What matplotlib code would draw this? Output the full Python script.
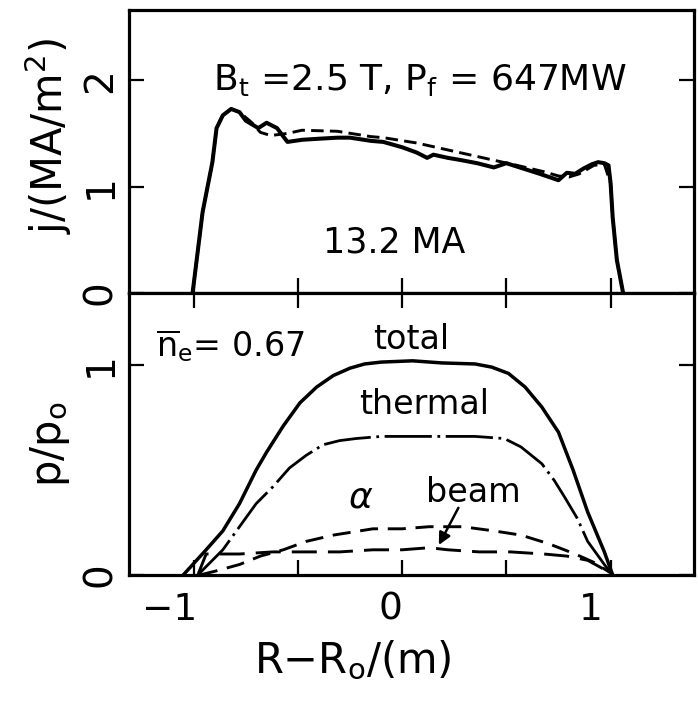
import matplotlib
matplotlib.use("Agg")
import matplotlib.pyplot as plt
from matplotlib.transforms import ScaledTranslation

plt.rcParams["font.family"] = ["DejaVu Sans"]
plt.rcParams["mathtext.fontset"] = "dejavusans"
plt.rcParams["lines.scale_dashes"] = False

# ---- current density profile, j (MA/m^2) vs R - R0 (m) ----
j_solid_x = [-1.005, -0.957, -0.91, -0.89, -0.86, -0.82, -0.78, -0.75, -0.69, -0.65,
             -0.60, -0.55, -0.48, -0.40, -0.31, -0.25, -0.15, -0.09, 0.0, 0.07,
             0.12, 0.15, 0.22, 0.28, 0.36, 0.44, 0.50, 0.58, 0.66, 0.75,
             0.79, 0.83, 0.87, 0.91, 0.94, 0.97, 0.99, 1.00, 1.01, 1.03, 1.06]
j_solid_y = [0, 0.76, 1.23, 1.55, 1.67, 1.73, 1.70, 1.62, 1.55, 1.60,
             1.55, 1.42, 1.44, 1.45, 1.46, 1.46, 1.43, 1.42, 1.37, 1.32,
             1.27, 1.30, 1.27, 1.25, 1.22, 1.18, 1.22, 1.17, 1.12, 1.06,
             1.13, 1.12, 1.17, 1.21, 1.23, 1.22, 1.20, 1.03, 0.71, 0.31, 0]

j_dash_x = [-1.005, -0.957, -0.91, -0.89, -0.86, -0.82, -0.78, -0.72, -0.68, -0.63,
            -0.55, -0.48, -0.31, -0.15, -0.09, 0.07, 0.23, 0.39, 0.55, 0.68,
            0.75, 0.80, 0.85, 0.92, 0.97, 1.00, 1.01, 1.03, 1.06]
j_dash_y = [0, 0.76, 1.23, 1.55, 1.67, 1.73, 1.70, 1.60, 1.51, 1.48,
            1.50, 1.53, 1.52, 1.47, 1.46, 1.41, 1.34, 1.27, 1.20, 1.14,
            1.10, 1.09, 1.12, 1.20, 1.21, 1.03, 0.71, 0.31, 0]

# ---- pressure profiles, p/p0 vs R - R0 (m) ----
total_x = [-1.05, -0.94, -0.86, -0.78, -0.70, -0.65, -0.57, -0.49, -0.41, -0.33,
           -0.25, -0.18, -0.10, 0.05, 0.19, 0.35, 0.43, 0.51, 0.59, 0.67,
           0.75, 0.82, 0.89, 0.97, 1.01]
total_y = [0, 0.12, 0.21, 0.34, 0.50, 0.585, 0.71, 0.82, 0.895, 0.95,
           0.985, 1.005, 1.014, 1.02, 1.01, 1.005, 0.99, 0.96, 0.895, 0.80,
           0.68, 0.50, 0.30, 0.11, 0]

thermal_x = [-0.98, -0.86, -0.78, -0.70, -0.62, -0.54, -0.46, -0.38, -0.30, -0.22,
             -0.10, 0.05, 0.19, 0.35, 0.49, 0.57, 0.67, 0.73, 0.78, 0.84,
             0.89, 0.97, 1.01]
thermal_y = [0, 0.12, 0.23, 0.34, 0.42, 0.51, 0.57, 0.62, 0.64, 0.65,
             0.66, 0.66, 0.66, 0.66, 0.65, 0.61, 0.53, 0.45, 0.37, 0.27,
             0.16, 0.05, 0]

alpha_x = [-0.97, -0.89, -0.78, -0.68, -0.57, -0.46, -0.33, -0.14, 0.0, 0.13,
           0.29, 0.44, 0.57, 0.70, 0.83, 0.92, 1.0]
alpha_y = [0, 0.02, 0.05, 0.09, 0.12, 0.16, 0.19, 0.22, 0.22, 0.23,
           0.23, 0.21, 0.19, 0.15, 0.10, 0.06, 0.01]

beam_x = [-0.98, -0.94, -0.90, -0.78, -0.62, -0.46, -0.30, -0.14, 0.0, 0.13,
          0.22, 0.37, 0.52, 0.68, 0.79, 0.89, 1.0]
beam_y = [0, 0.10, 0.10, 0.10, 0.11, 0.11, 0.11, 0.12, 0.12, 0.13,
          0.12, 0.11, 0.11, 0.10, 0.09, 0.07, 0.01]

x_ticks = [-1, -0.5, 0, 0.5, 1]
x_ticklabels = ["\u22121", "", "0", "", "1"]
j_ticks = [0, 1, 2]
p_ticks = [0, 1]

# ---- figure layout ----
W, H = 698, 701
fig = plt.figure(figsize=(W / 100, H / 100), dpi=100)
left, right = 129 / W, 694 / W
ax_j = fig.add_axes([left, 1 - 293 / H, right - left, 283 / H])
ax_p = fig.add_axes([left, 1 - 575 / H, right - left, 282 / H])

for ax in (ax_j, ax_p):
    ax.set_xlim(-1.31, 1.40)
    for sp in ax.spines.values():
        sp.set_linewidth(2.3)
    ax.set_xticks(x_ticks)
    ax.tick_params(direction="in", length=11, width=1.6, labelsize=27)

ax_j.set_ylim(0, 2.66)
ax_p.set_ylim(0, 1.343)

# top panel ticks
ax_j.set_yticks(j_ticks)
ax_j.tick_params(axis="x", bottom=True, top=False, labelbottom=False)
ax_j.tick_params(axis="y", left=True, right=True, labelleft=True,
                 labelrotation=90, pad=7, labelsize=28)
for lab in ax_j.get_yticklabels():
    lab.set_va("center")

# bottom panel ticks
ax_p.set_yticks(p_ticks)
ax_p.set_xticklabels(x_ticklabels)
ax_p.tick_params(axis="x", bottom=True, top=True, labelbottom=True, pad=12)
ax_p.tick_params(axis="y", left=True, right=True, labelleft=True,
                 labelrotation=90, pad=7, labelsize=28)
for lab in ax_p.get_yticklabels():
    lab.set_va("center")
shifts = [-24, 0, -12, 0, -20]
for lab, dx in zip(ax_p.get_xticklabels(), shifts):
    lab.set_transform(lab.get_transform() + ScaledTranslation(dx / 100, 0, fig.dpi_scale_trans))

# ---- curves ----
ax_j.plot(j_dash_x, j_dash_y, color="black", lw=2.1, ls=(0, (9, 4.5)))
ax_j.plot(j_solid_x, j_solid_y, color="black", lw=2.9, solid_joinstyle="round")

ax_p.plot(total_x, total_y, color="black", lw=2.5, solid_joinstyle="round")
ax_p.plot(thermal_x, thermal_y, color="black", lw=2.0, ls=(0, (34, 4, 2, 4)))
ax_p.plot(alpha_x, alpha_y, color="black", lw=2.1, ls=(0, (13, 7)))
ax_p.plot(beam_x, beam_y, color="black", lw=2.1, ls=(0, (18, 8)))

# ---- annotations ----
ax_j.text(0.087, 1.91, r"$\mathregular{B_t}$ =2.5 T, $\mathregular{P_f}$ = 647MW",
          fontsize=26, ha="center", va="baseline")
ax_j.text(-0.04, 0.385, "13.2 MA", fontsize=25, ha="center", va="baseline")

ax_p.text(-1.18, 1.04, r"$\mathregular{\overline{n}_e}$= 0.67", fontsize=24,
          ha="left", va="baseline")
ax_p.text(0.043, 1.12, "total", fontsize=24, ha="center", va="center")
ax_p.text(0.105, 0.81, "thermal", fontsize=24, ha="center", va="center")
ax_p.text(0.34, 0.395, "beam", fontsize=24, ha="center", va="center")
ax_p.text(-0.2, 0.37, r"$\alpha$", fontsize=26, ha="center", va="center")
ax_p.annotate("", xy=(0.176, 0.143), xytext=(0.27, 0.32),
              arrowprops=dict(arrowstyle="-|>", lw=1.8, color="black",
                              mutation_scale=18, shrinkA=0, shrinkB=0))

# ---- axis titles ----
fig.text(48 / W, 1 - 136 / H, r"j/(MA/m$^2$)", rotation=90, fontsize=30,
         ha="center", va="center")
fig.text(50 / W, 1 - 444 / H, r"p/p$_\mathregular{o}$", rotation=90, fontsize=30,
         ha="center", va="center")
fig.text(353 / W, 1 - 660 / H, "R\u2212R$_\\mathregular{o}$/(m)", fontsize=30,
         ha="center", va="center")

fig.savefig("out.png", dpi=100)
